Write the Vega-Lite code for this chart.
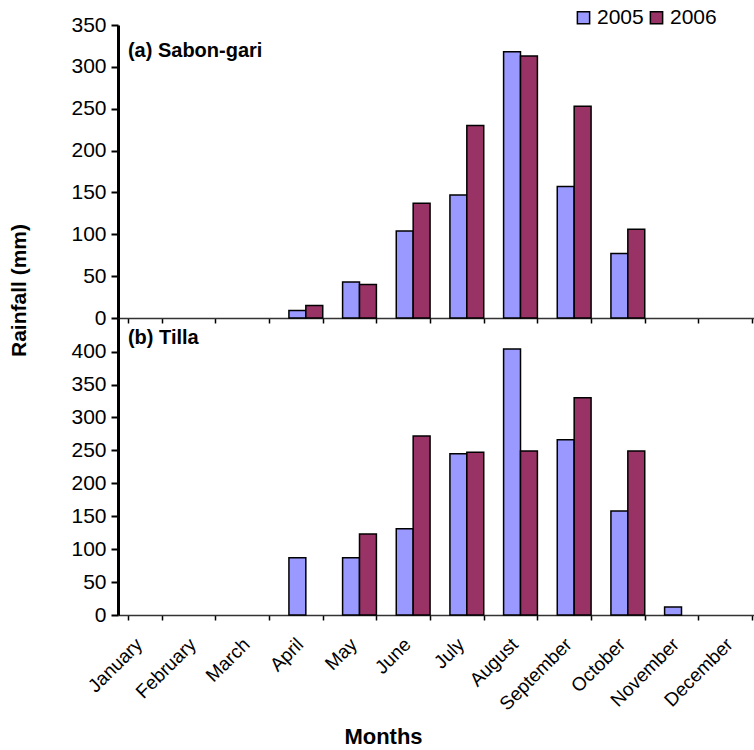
{
  "$schema": "https://vega.github.io/schema/vega-lite/v6.json",
  "padding": {"left": 8, "top": 7, "right": 0, "bottom": 0},
  "background": "white",
  "config": {"font": "Liberation Sans", "view": {"stroke": null}},
  "datasets": {
    "sabon": [
      {"month": "April", "year": "2005", "rainfall": 9},
      {"month": "April", "year": "2006", "rainfall": 15},
      {"month": "May", "year": "2005", "rainfall": 43},
      {"month": "May", "year": "2006", "rainfall": 40},
      {"month": "June", "year": "2005", "rainfall": 104},
      {"month": "June", "year": "2006", "rainfall": 137},
      {"month": "July", "year": "2005", "rainfall": 147},
      {"month": "July", "year": "2006", "rainfall": 230},
      {"month": "August", "year": "2005", "rainfall": 318},
      {"month": "August", "year": "2006", "rainfall": 313},
      {"month": "September", "year": "2005", "rainfall": 157},
      {"month": "September", "year": "2006", "rainfall": 253},
      {"month": "October", "year": "2005", "rainfall": 77},
      {"month": "October", "year": "2006", "rainfall": 106}
    ],
    "tilla": [
      {"month": "April", "year": "2005", "rainfall": 87},
      {"month": "May", "year": "2005", "rainfall": 87},
      {"month": "May", "year": "2006", "rainfall": 123},
      {"month": "June", "year": "2005", "rainfall": 131},
      {"month": "June", "year": "2006", "rainfall": 272},
      {"month": "July", "year": "2005", "rainfall": 245},
      {"month": "July", "year": "2006", "rainfall": 247},
      {"month": "August", "year": "2005", "rainfall": 404},
      {"month": "August", "year": "2006", "rainfall": 249},
      {"month": "September", "year": "2005", "rainfall": 266},
      {"month": "September", "year": "2006", "rainfall": 330},
      {"month": "October", "year": "2005", "rainfall": 158},
      {"month": "October", "year": "2006", "rainfall": 249},
      {"month": "November", "year": "2005", "rainfall": 12}
    ],
    "labelA": [{"site": "(a) Sabon-gari"}],
    "labelB": [{"site": "(b) Tilla"}]
  },
  "spacing": 0,
  "bounds": "flush",
  "resolve": {"scale": {"x": "independent", "y": "independent", "color": "independent"}, "legend": {"color": "independent"}},
  "vconcat": [
    {
      "width": 644,
      "height": 293,
      "layer": [
        {
          "data": {"name": "sabon"},
          "mark": {"type": "bar", "stroke": "black", "strokeWidth": 1.5},
          "encoding": {
            "x": {
              "field": "month", "type": "nominal",
              "scale": {"domain": ["January","February","March","April","May","June","July","August","September","October","November","December"], "paddingInner": 0.37, "paddingOuter": 0.185},
              "axis": {"title": null, "labels": false, "tickBand": "extent", "tickSize": 5, "tickColor": "black", "tickWidth": 1.5, "domainColor": "#333333", "domainWidth": 1.5}
            },
            "xOffset": {"field": "year", "type": "nominal"},
            "y": {
              "field": "rainfall", "type": "quantitative",
              "scale": {"domain": [0, 350], "nice": false},
              "axis": {"values": [0,50,100,150,200,250,300,350], "grid": false, "title": "Rainfall (mm)", "titleX": -99, "titleY": 265, "titleBaseline": "middle", "titleAlign": "center", "titleFontSize": 21, "titleFontWeight": "bold", "titleColor": "black", "labelFontSize": 21, "labelColor": "black", "labelPadding": 5, "tickSize": 7, "tickWidth": 2, "tickColor": "black", "domainColor": "black", "domainWidth": 3}
            },
            "color": {
              "field": "year", "type": "nominal",
              "scale": {"domain": ["2005","2006"], "range": ["#9999FF","#993366"]},
              "legend": {"title": null, "orient": "none", "legendX": 455, "legendY": -18, "direction": "horizontal", "symbolType": "square", "symbolSize": 150, "symbolStrokeColor": "black", "symbolStrokeWidth": 1.5, "symbolOpacity": 1, "labelFontSize": 21, "labelColor": "black", "labelOffset": 3, "columnPadding": 2}
            }
          }
        },
        {
          "data": {"name": "labelA"},
          "mark": {"type": "text", "align": "left", "baseline": "middle", "fontSize": 20, "fontWeight": "bold", "color": "black"},
          "encoding": {
            "text": {"field": "site", "type": "nominal"},
            "x": {"datum": "January", "type": "nominal", "bandPosition": 0,
              "axis": {"title": null, "labels": false, "tickBand": "extent", "tickSize": 5, "tickColor": "black", "tickWidth": 1.5, "domainColor": "#333333", "domainWidth": 1.5}},
            "y": {"datum": 319, "type": "quantitative",
              "axis": {"values": [0,50,100,150,200,250,300,350], "grid": false, "title": "Rainfall (mm)", "titleX": -99, "titleY": 265, "titleBaseline": "middle", "titleAlign": "center", "titleFontSize": 21, "titleFontWeight": "bold", "titleColor": "black", "labelFontSize": 21, "labelColor": "black", "labelPadding": 5, "tickSize": 7, "tickWidth": 2, "tickColor": "black", "domainColor": "black", "domainWidth": 3}}
          }
        }
      ]
    },
    {
      "width": 644,
      "height": 297,
      "layer": [
        {
          "data": {"name": "tilla"},
          "mark": {"type": "bar", "stroke": "black", "strokeWidth": 1.5},
          "encoding": {
            "x": {
              "field": "month", "type": "nominal",
              "scale": {"domain": ["January","February","March","April","May","June","July","August","September","October","November","December"], "paddingInner": 0.37, "paddingOuter": 0.185},
              "axis": {"title": "Months", "titleX": 265, "titleY": 121, "titleBaseline": "middle", "titleFontSize": 22, "titleFontWeight": "bold", "titleColor": "black", "labelAngle": -45, "labelAlign": "right", "labelBaseline": "middle", "labelFontSize": 19, "labelColor": "black", "labelPadding": 21, "labelOffset": -6, "tickBand": "extent", "tickSize": 5, "tickColor": "black", "tickWidth": 1.5, "domainColor": "#333333", "domainWidth": 1.5}
            },
            "xOffset": {"field": "year", "type": "nominal", "scale": {"domain": ["2005","2006"]}},
            "y": {
              "field": "rainfall", "type": "quantitative",
              "scale": {"domain": [0, 451], "nice": false},
              "axis": {"values": [0,50,100,150,200,250,300,350,400], "grid": false, "title": null, "labelFontSize": 21, "labelColor": "black", "labelPadding": 5, "tickSize": 7, "tickWidth": 2, "tickColor": "black", "domainColor": "black", "domainWidth": 3}
            },
            "color": {
              "field": "year", "type": "nominal",
              "scale": {"domain": ["2005","2006"], "range": ["#9999FF","#993366"]},
              "legend": null
            }
          }
        },
        {
          "data": {"name": "labelB"},
          "mark": {"type": "text", "align": "left", "baseline": "middle", "fontSize": 20, "fontWeight": "bold", "color": "black"},
          "encoding": {
            "text": {"field": "site", "type": "nominal"},
            "x": {"datum": "January", "type": "nominal", "bandPosition": 0,
              "axis": {"title": "Months", "titleX": 265, "titleY": 121, "titleBaseline": "middle", "titleFontSize": 22, "titleFontWeight": "bold", "titleColor": "black", "labelAngle": -45, "labelAlign": "right", "labelBaseline": "middle", "labelFontSize": 19, "labelColor": "black", "labelPadding": 21, "labelOffset": -6, "tickBand": "extent", "tickSize": 5, "tickColor": "black", "tickWidth": 1.5, "domainColor": "#333333", "domainWidth": 1.5}},
            "y": {"datum": 421, "type": "quantitative",
              "axis": {"values": [0,50,100,150,200,250,300,350,400], "grid": false, "title": null, "labelFontSize": 21, "labelColor": "black", "labelPadding": 5, "tickSize": 7, "tickWidth": 2, "tickColor": "black", "domainColor": "black", "domainWidth": 3}}
          }
        }
      ]
    }
  ]
}
